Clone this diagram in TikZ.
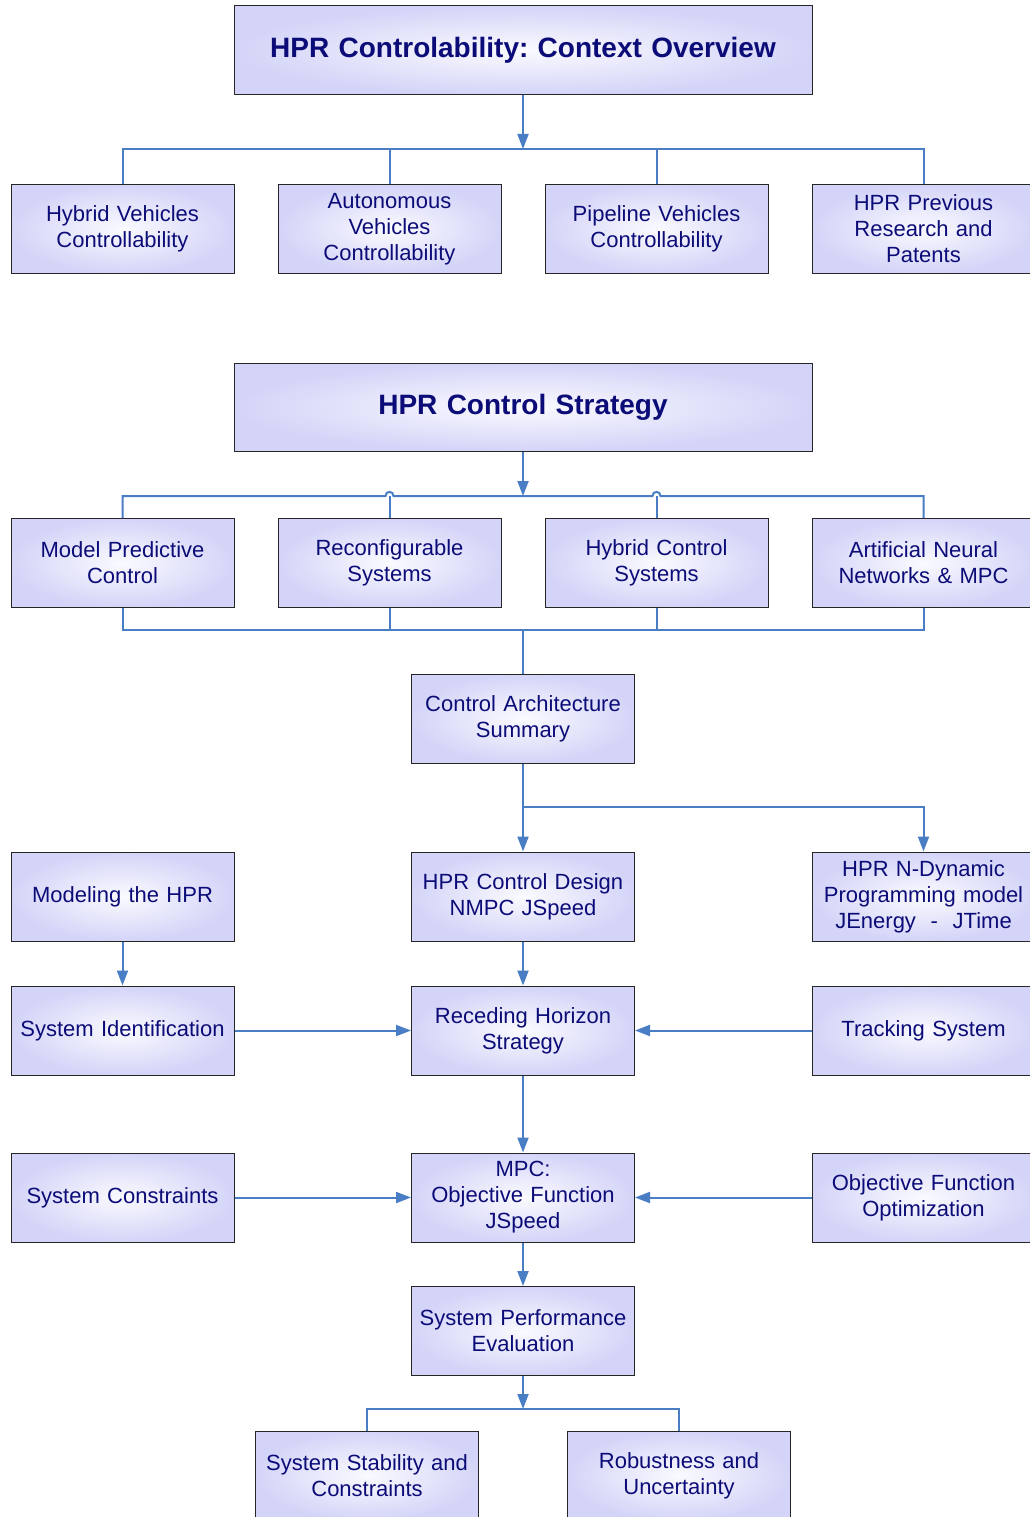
\documentclass[tikz,border=0pt]{standalone}
\usepackage{fontspec}
\setmainfont{Liberation Sans}
\usetikzlibrary{arrows.meta,positioning}
\definecolor{txt}{RGB}{12,12,120}
\definecolor{ln}{RGB}{74,126,196}
\definecolor{edge}{RGB}{212,212,248}
\definecolor{mid}{RGB}{250,250,255}
\frenchspacing
\begin{document}
\begin{tikzpicture}[x=1pt,y=-1pt,
  box/.style={draw=black!85,line width=1pt,inner color=mid,outer color=edge,
    minimum width=223pt,minimum height=89pt,inner sep=0pt,text width=217pt,align=center,
    text=txt,font=\fontsize{22}{26}\selectfont},
  titlebox/.style={box,minimum width=578pt,text width=570pt,font=\fontsize{28}{32}\selectfont\bfseries},
  conn/.style={draw=ln,line width=2pt},
  arr/.style={conn,-{Triangle[length=15pt,width=11pt]}}]
\useasboundingbox (0,0) rectangle (1029,1517);
% top section
\node[titlebox] (t1) at (523,50.5) {HPR Controlability: Context Overview};
\node[box] (a1) at (122.5,229) {Hybrid Vehicles\\Controllability};
\node[box] (a2) at (389.5,229) {Autonomous\\Vehicles\\Controllability};
\node[box] (a3) at (656.5,229) {Pipeline Vehicles\\Controllability};
\node[box] (a4) at (923.5,229) {HPR Previous\\Research and\\Patents};
\coordinate (j1) at (523,149);
\draw[arr] (t1.south) -- (j1);
\foreach \n in {a1,a2,a3,a4} \draw[conn] (j1) -| (\n.north);
% strategy
\node[titlebox,minimum height=88pt] (t2) at (523,407) {HPR Control Strategy};
\node[box] (b1) at (122.5,563) {Model Predictive\\Control};
\node[box] (b2) at (389.5,563) {Reconfigurable\\Systems};
\node[box] (b3) at (656.5,563) {Hybrid Control\\Systems};
\node[box] (b4) at (923.5,563) {Artificial Neural\\Networks \& MPC};
\coordinate (j2) at (523,496);
\draw[arr] (t2.south) -- (j2);
\draw[conn] (b1.north) -- (122.5,496) -- (385.5,496) .. controls (385.5,490.5) and (393.5,490.5) .. (393.5,496)
  -- (652.5,496) .. controls (652.5,490.5) and (660.5,490.5) .. (660.5,496) -- (923.5,496) -- (b4.north);
\draw[conn] (b2.north) -- (389.5,496);
\draw[conn] (b3.north) -- (656.5,496);
\node[box] (c1) at (523,718.5) {Control Architecture\\Summary};
\coordinate (j3) at (523,630);
\foreach \n in {b1,b2,b3,b4} \draw[conn] (\n.south) |- (j3);
\draw[conn] (j3) -- (c1.north);
% middle
\node[box] (d1) at (122.5,896.5) {Modeling the HPR};
\node[box] (d2) at (523,896.5) {HPR Control Design\\NMPC JSpeed};
\node[box] (d3) at (923.5,896.5) {HPR N-Dynamic\\Programming model\\JEnergy~~-~~JTime};
\coordinate (j4) at (523,807);
\draw[arr] (c1.south) -- (d2.north);
\draw[arr] (j4) -| (d3.north);
\node[box] (e1) at (122.5,1030.5) {System Identification};
\node[box] (e2) at (523,1030.5) {Receding Horizon\\Strategy};
\node[box] (e3) at (923.5,1030.5) {Tracking System};
\draw[arr] (d1.south) -- (e1.north);
\draw[arr] (d2.south) -- (e2.north);
\draw[arr] (e1.east) -- (e2.west);
\draw[arr] (e3.west) -- (e2.east);
\node[box] (f1) at (122.5,1197.5) {System Constraints};
\node[box] (f2) at (523,1197.5) {MPC:\\Objective Function\\JSpeed};
\node[box] (f3) at (923.5,1197.5) {Objective Function\\Optimization};
\draw[arr] (e2.south) -- (f2.north);
\draw[arr] (f1.east) -- (f2.west);
\draw[arr] (f3.west) -- (f2.east);
\node[box] (g1) at (523,1331) {System Performance\\Evaluation};
\draw[arr] (f2.south) -- (g1.north);
\node[box] (h1) at (367,1475.5) {System Stability and\\Constraints};
\node[box] (h2) at (679,1475.5) {Robustness and\\Uncertainty};
\coordinate (j5) at (523,1409);
\draw[arr] (g1.south) -- (j5);
\draw[conn] (j5) -| (h1.north);
\draw[conn] (j5) -| (h2.north);
\end{tikzpicture}
\end{document}
